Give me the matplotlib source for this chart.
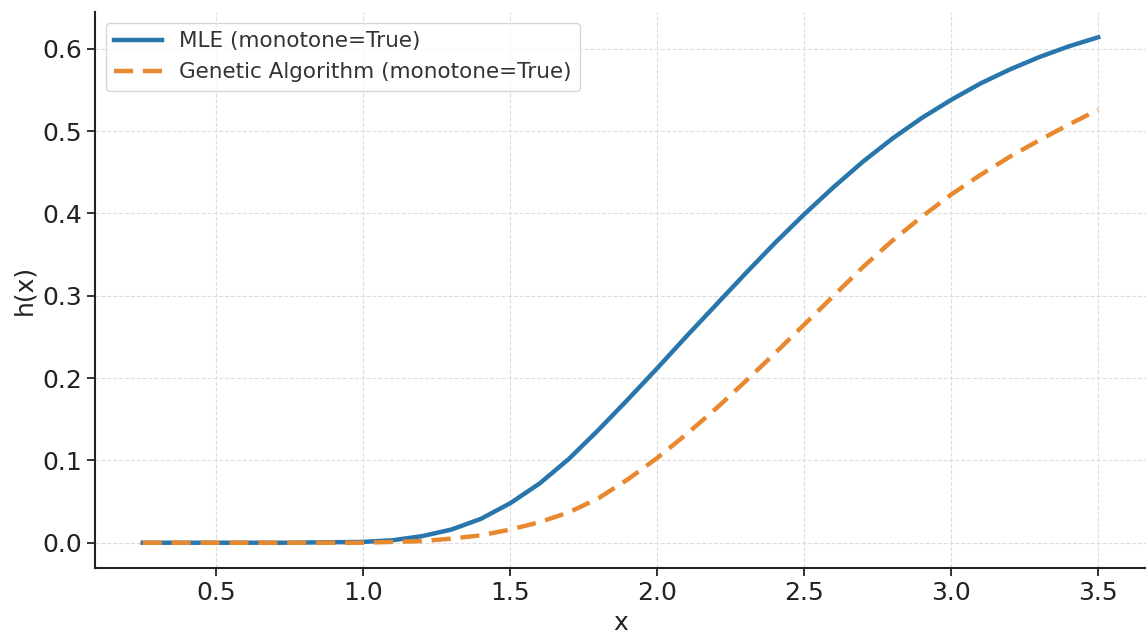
import matplotlib.pyplot as plt

# 读图估计的数据
x = [0.25, 0.5, 0.75, 1.0, 1.1, 1.2, 1.3, 1.4, 1.5, 1.6, 1.7, 1.8, 1.9, 2.0,
     2.1, 2.2, 2.3, 2.4, 2.5, 2.6, 2.7, 2.8, 2.9, 3.0, 3.1, 3.2, 3.3, 3.4, 3.5]
h_mle = [0.0, 0.0, 0.0, 0.001, 0.003, 0.008, 0.016, 0.029, 0.048, 0.072, 0.102,
         0.137, 0.174, 0.212, 0.251, 0.289, 0.327, 0.364, 0.399, 0.432, 0.463,
         0.491, 0.516, 0.538, 0.558, 0.575, 0.590, 0.603, 0.614]
h_ga = [0.0, 0.0, 0.0, 0.0, 0.001, 0.002, 0.005, 0.009, 0.016, 0.025, 0.037,
        0.054, 0.077, 0.103, 0.132, 0.163, 0.196, 0.230, 0.265, 0.300, 0.335,
        0.367, 0.396, 0.423, 0.447, 0.469, 0.489, 0.508, 0.526]

plt.rcParams['font.family'] = ['DejaVu Sans']

fig = plt.figure(figsize=(11.46, 6.35), dpi=100)
ax = fig.add_axes([95 / 1146, 67 / 635, 1 - 95 / 1146, 556 / 635])

ax.plot(x, h_mle, color='#2876ab', lw=3.2, label='MLE (monotone=True)')
ax.plot(x, h_ga, color='#e8892f', lw=3.2, dashes=(4.3, 2.2),
        label='Genetic Algorithm (monotone=True)')

ax.grid(True, ls='--', lw=0.8, color='#dddddd')
ax.set_axisbelow(True)
for s in ['top', 'right']:
    ax.spines[s].set_visible(False)
for s in ['left', 'bottom']:
    ax.spines[s].set_linewidth(1.5)
    ax.spines[s].set_color('#222222')

ax.tick_params(labelsize=18, length=6, width=1.3, colors='#222222')
ax.set_xlabel('x', fontsize=18, color='#222222')
ax.set_ylabel('h(x)', fontsize=18, color='#222222')

leg = ax.legend(loc='upper left', fontsize=15.5, frameon=True, fancybox=True,
                borderaxespad=0.5, handlelength=2.2)
leg.get_frame().set_edgecolor('#cccccc')
for t in leg.get_texts():
    t.set_color('#333333')

plt.savefig('out.png', dpi=100)
